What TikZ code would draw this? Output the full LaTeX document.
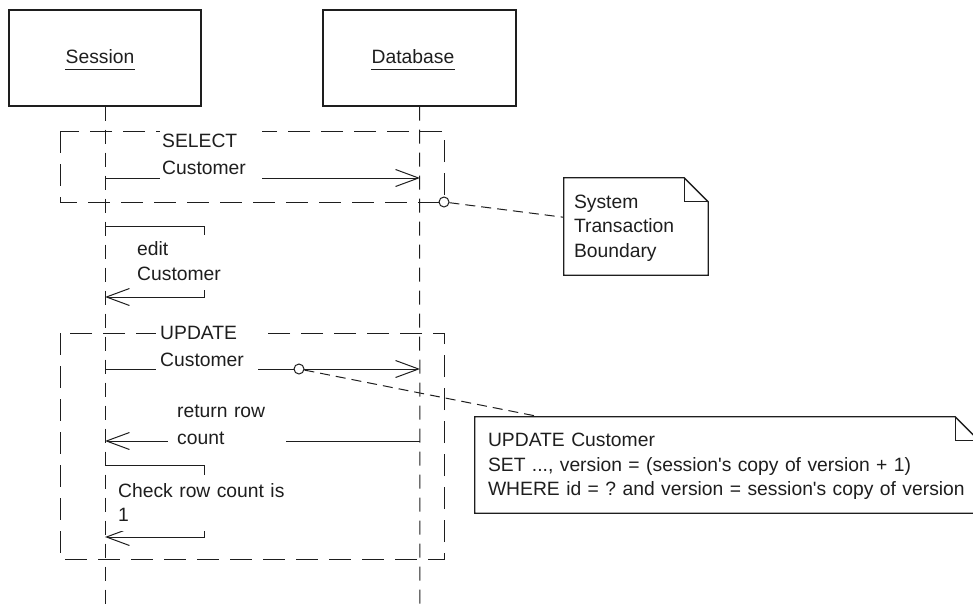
\documentclass[tikz,border=0pt]{standalone}
\usepackage{fontspec}
\setmainfont{Liberation Sans}
\usetikzlibrary{arrows.meta}
\definecolor{ink}{HTML}{1E1E1E}
\newcommand\ls{\rule[-6pt]{0pt}{24pt}}
\frenchspacing
\hyphenpenalty=10000
\exhyphenpenalty=10000
\begin{document}
\begin{tikzpicture}[x=1pt,y=-1pt,
  every node/.style={font=\fontsize{19.3}{25}\selectfont, text=ink},
  objbox/.style={draw=ink, line width=1.3pt, minimum width=192pt, minimum height=96pt, inner sep=0pt},
  titletext/.style={inner sep=0pt, anchor=base},
  lifeline/.style={draw=ink, line width=1pt, dash pattern=on 14pt off 9pt},
  txbox/.style={draw=ink, line width=1pt, dash pattern=on 22pt off 11pt},
  msg/.style={draw=ink, line width=1pt, -{Straight Barb[length=23pt,width=17pt]}},
  msglabel/.style={fill=white, anchor=west, align=left, inner ysep=0pt, font=\fontsize{19.3}{27}\selectfont},
  anchorpt/.style={circle, draw=ink, fill=white, line width=1pt, minimum size=10pt, inner sep=0pt},
  notelink/.style={draw=ink, line width=1pt, dash pattern=on 10pt off 6pt},
  notebox/.style={inner ysep=0pt, align=left, font=\fontsize{19.3}{24.5}\selectfont},
  noteline/.style={draw=ink, line width=1.3pt, line join=miter}
]
\useasboundingbox (0,0) rectangle (973,607);
\clip (0,0) rectangle (973,607);

% objects
\node[objbox] (session) at (105,58) {};
\node[objbox, minimum width=193pt] (database) at (419.5,58) {};
\node[titletext] (ts) at (100,64) {Session};
\node[titletext] (td) at (413,64) {Database};
\draw[ink, line width=1pt] ([yshift=-6pt]ts.base west) -- ([yshift=-6pt]ts.base east);
\draw[ink, line width=1pt] ([yshift=-6pt]td.base west) -- ([yshift=-6pt]td.base east);

% lifelines
\coordinate (sEnd) at (105,612);
\coordinate (dEnd) at (420,612);
\draw[lifeline] (session.south) -- (sEnd);
\draw[lifeline] (database.south) -- (dEnd);

% transaction boundaries
\draw[txbox] (60,131) rectangle (444,202);
\draw[txbox] (60,333) rectangle (444,559);

% message end points
\coordinate (s1) at (105,178); \coordinate (d1) at (420,178);
\coordinate (s2a) at (105,226); \coordinate (s2b) at (204,226);
\coordinate (s2c) at (204,297); \coordinate (s2d) at (105,297);
\coordinate (s3) at (105,369); \coordinate (d3) at (420,369);
\coordinate (s4) at (105,441); \coordinate (d4) at (420,441);
\coordinate (s5a) at (105,465); \coordinate (s5b) at (204,465);
\coordinate (s5c) at (204,537); \coordinate (s5d) at (105,537);

\draw[msg] (s1) -- (d1);
\draw[msg] (s2a) -- (s2b) -- (s2c) -- (s2d);
\draw[msg] (s3) -- (d3);
\draw[msg] (d4) -- (s4);
\draw[msg] (s5a) -- (s5b) -- (s5c) -- (s5d);

% message labels
\node[msglabel, inner xsep=2pt, text width=98pt] (l1) at (160,154.5) {\ls SELECT\\\ls Customer};
\node[msglabel, font=\fontsize{19.3}{25}\selectfont, inner xsep=7pt, inner ysep=3pt, text width=90pt] (l2) at (130,262) {\ls edit\\\ls Customer};
\node[msglabel, inner xsep=4pt, text width=94pt] (l3) at (156,346.5) {\ls UPDATE\\\ls Customer};
\node[msglabel, inner xsep=9pt, text width=100pt] (l4) at (168,424.5) {\ls return row\\\ls count};
\node[msglabel, font=\fontsize{19.3}{24}\selectfont, inner xsep=8pt, inner ysep=4pt, text width=168pt] (l5) at (110,503) {\ls Check row count is\\\ls 1};

% notes
\node[notebox, text width=124pt, inner xsep=10pt, minimum height=97pt] (n1) at (636,226.5) {\ls System\\\ls Transaction\\\ls Boundary};
\draw[noteline] (n1.north west) -- ([xshift=-24pt]n1.north east) -- ([yshift=-24pt]n1.north east) -- (n1.south east) -- (n1.south west) -- cycle;
\draw[noteline] ([xshift=-24pt]n1.north east) -- ([xshift=-24pt,yshift=-24pt]n1.north east) -- ([yshift=-24pt]n1.north east);

\node[notebox, text width=478pt, inner xsep=13pt, minimum height=96pt] (n2) at (727,465) {\ls UPDATE Customer\\\ls SET ..., version = (session\textquotesingle s copy of version + 1)\\\ls WHERE id = ? and version = session\textquotesingle s copy of version};
\draw[noteline] (n2.north west) -- ([xshift=-24pt]n2.north east) -- ([yshift=-24pt]n2.north east) -- (n2.south east) -- (n2.south west) -- cycle;
\draw[noteline] ([xshift=-24pt]n2.north east) -- ([xshift=-24pt,yshift=-24pt]n2.north east) -- ([yshift=-24pt]n2.north east);

% note anchors and links
\node[anchorpt] (c1) at (444,202) {};
\node[anchorpt] (c2) at (299,369) {};
\draw[notelink] (c1) -- (n1);
\draw[notelink] (c2) -- ([xshift=65pt]n2.north west);
\end{tikzpicture}
\end{document}
